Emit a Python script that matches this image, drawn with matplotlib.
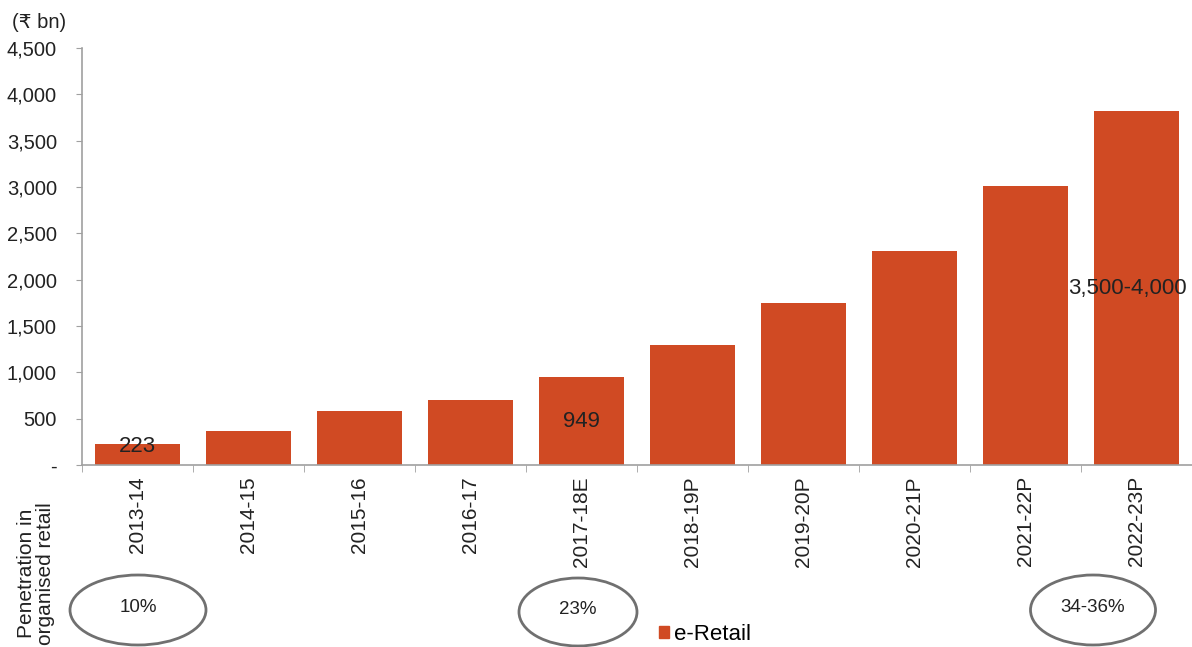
import matplotlib
matplotlib.use("Agg")
import matplotlib.pyplot as plt
from matplotlib.patches import Ellipse, Patch
from matplotlib.ticker import FuncFormatter, FixedLocator

plt.rcParams['font.family'] = ['Liberation Sans', 'DejaVu Sans']

categories = ['2013-14', '2014-15', '2015-16', '2016-17', '2017-18E',
              '2018-19P', '2019-20P', '2020-21P', '2021-22P', '2022-23P']
values = [223, 365, 580, 700, 949, 1290, 1750, 2310, 3010, 3820]
bar_labels = {0: '223', 4: '949', 9: '3,500-4,000'}
yticks = [0, 500, 1000, 1500, 2000, 2500, 3000, 3500, 4000, 4500]
penetration = [(0, '10%'), (4, '23%'), (9, '34-36%')]

W, H = 1192, 647
fig = plt.figure(figsize=(W / 100, H / 100), dpi=100)
ax = fig.add_axes([82 / W, 1 - 465 / H, 1 - 82 / W, (465 - 48) / H])

bar_color = '#D04A23'
x = list(range(len(categories)))
ax.bar(x, values, width=0.77, color=bar_color, zorder=2)

for i, lab in bar_labels.items():
    xo = -0.08 if i == 9 else 0
    ax.text(i + xo, values[i] / 2 + (90 if i == 0 else 0), lab, ha='center', va='center',
            fontsize=16, color='#222222', zorder=3)

ax.set_xlim(-0.5, len(categories) - 0.5)
ax.set_ylim(0, 4500)
ax.set_yticks(yticks)
ax.yaxis.set_major_formatter(FuncFormatter(lambda v, p: '-' if v == 0 else f'{int(v):,}'))
ax.set_xticks(x)
ax.set_xticklabels(categories, rotation=90, fontsize=15, color='#222222')
ax.xaxis.set_minor_locator(FixedLocator([i + 0.5 for i in range(-1, len(categories))]))
ax.tick_params(axis='x', which='major', length=0, pad=8)
ax.tick_params(axis='x', which='minor', length=5, color='#A0A0A0', direction='out')
ax.tick_params(axis='y', length=4, color='#A0A0A0', labelsize=14.5, labelcolor='#222222', pad=14)

for s in ['top', 'right']:
    ax.spines[s].set_visible(False)
for s in ['left', 'bottom']:
    ax.spines[s].set_color('#A0A0A0')
    ax.spines[s].set_linewidth(1.2)

fig.text(12 / W, 1 - 22 / H, '(₹ bn)', fontsize=14.5, color='#222222', va='center', ha='left')

fig.text(36 / W, 1 - 645 / H, 'Penetration in\norganised retail', rotation=90,
         fontsize=15, color='#222222', ha='center', va='bottom', linespacing=1.0)

ell_specs = {0: (138, 610, 136, 70), 4: (578, 612, 118, 68), 9: (1093, 610, 125, 70)}
for i, lab in penetration:
    cx, cy, w, h = ell_specs[i]
    e = Ellipse((cx / W, 1 - cy / H), w / W, h / H, transform=fig.transFigure,
                fill=False, edgecolor='#707070', linewidth=2)
    fig.add_artist(e)
    fig.text(cx / W, 1 - (cy - 2) / H, lab, fontsize=13.5, color='#222222',
             ha='center', va='center')

fig.legend(handles=[Patch(color=bar_color, label='e-Retail')], loc='center left',
           bbox_to_anchor=(650 / W, 1 - 634 / H), frameon=False, fontsize=16,
           handlelength=0.45, handleheight=0.45, handletextpad=0.25, borderaxespad=0)

fig.savefig('out.png', dpi=100)
